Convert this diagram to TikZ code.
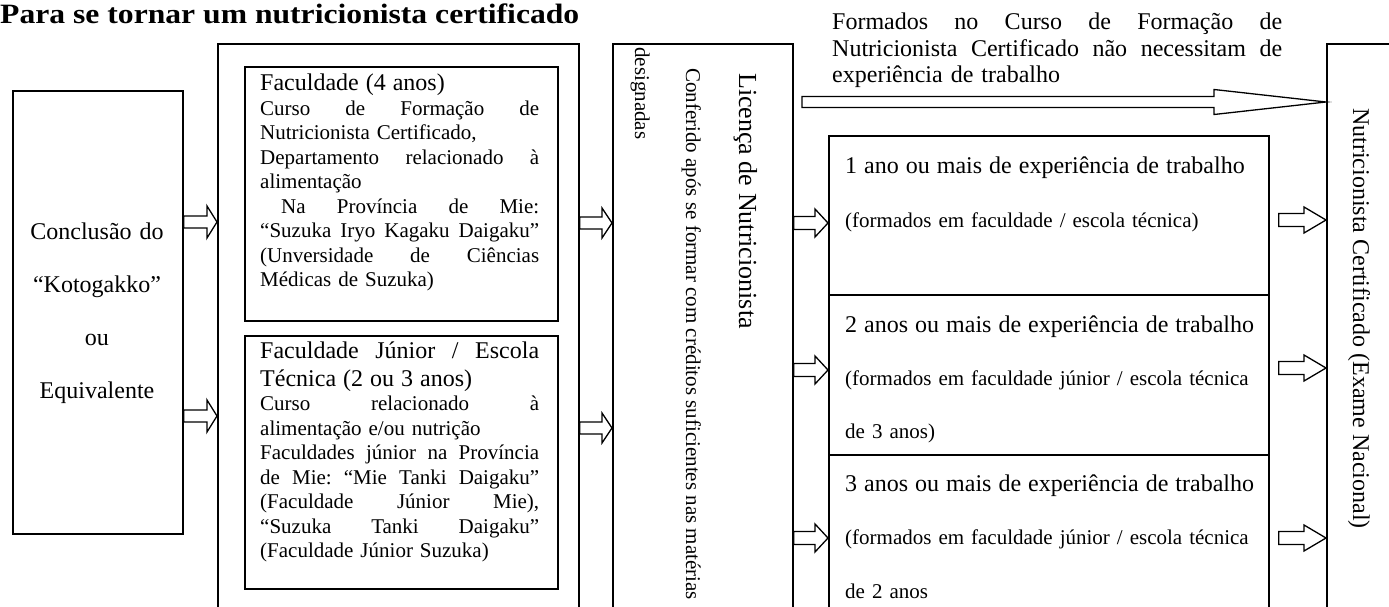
\documentclass[tikz,border=0pt]{standalone}
\usepackage{fontspec}
\usepackage{graphicx}
\setmainfont{Liberation Serif}
\usetikzlibrary{calc}
\begin{document}
\begin{tikzpicture}[x=1pt,y=-1pt,
  box/.style={draw, line width=1.8pt, inner sep=0pt, anchor=north west},
  ibox/.style={box, line width=2.3pt},
  body/.style={inner sep=0pt, anchor=base west, align=left, font=\fontsize{21}{24.5}\selectfont},
  big/.style={font=\fontsize{24}{26.5}\selectfont},
  vtext/.style={inner sep=0pt, rotate=-90, anchor=base west},
  arr/.style={line width=1.3pt},
  barrow/.style n args={3}{to path={let \p1=(\tikztostart), \p2=(\tikztotarget) in
    (\x1,\y1+#1pt) -- (\x2-#3pt,\y1+#1pt) -- (\x2-#3pt,\y1+#2pt) -- (\x2,\y1)
    -- (\x2-#3pt,\y1-#2pt) -- (\x2-#3pt,\y1-#1pt) -- (\x1,\y1-#1pt) -- cycle}}]
\useasboundingbox (0,0) rectangle (1389,607);
\clip (0,0) rectangle (1389,607);

% title
\node[anchor=base west, inner sep=0pt, font=\fontsize{28}{30}\selectfont\bfseries] (title) at (0,24)
  {\scalebox{1.13}[1]{Para se tornar um nutricionista certificado}};

% left box
\node[box, minimum width=170pt, minimum height=443pt] (kot) at (12,90) {};
\node[inner sep=0pt, anchor=base, text width=170pt, align=center, font=\fontsize{24}{53}\selectfont] (kott) at (97,239)
  {Conclusão do\\“Kotogakko”\\ou\\Equivalente};

% faculties
\node[box, minimum width=361pt, minimum height=600pt] (fac) at (217,43) {};
\node[ibox, minimum width=313pt, minimum height=254pt] (f4) at (244,66) {};
\node[ibox, minimum width=313pt, minimum height=253pt] (fj) at (244,335) {};
\node[body, text width=279pt] (f4t) at (260,91) {{\fontsize{24}{25}\selectfont Faculdade (4 anos)\par}
Curso\hfill de\hfill Formação\hfill de\\
Nutricionista Certificado,\\
Departamento\hfill relacionado\hfill à\\
alimentação\\
\hspace*{21pt}Na\hfill Província\hfill de\hfill Mie:\\
“Suzuka\hfill Iryo\hfill Kagaku\hfill Daigaku”\\
(Unversidade\hfill de\hfill Ciências\\
Médicas de Suzuka)};
\node[body, text width=279pt] (fjt) at (260,358) {{\fontsize{24}{28}\selectfont Faculdade\hfill Júnior\hfill /\hfill Escola\\
Técnica (2 ou 3 anos)\par}
Curso\hfill relacionado\hfill à\\
alimentação e/ou nutrição\\
Faculdades\hfill júnior\hfill na\hfill Província\\
de\hfill Mie:\hfill “Mie\hfill Tanki\hfill Daigaku”\\
(Faculdade\hfill Júnior\hfill Mie),\\
“Suzuka\hfill Tanki\hfill Daigaku”\\
(Faculdade Júnior Suzuka)};

% licence box
\node[box, minimum width=180pt, minimum height=600pt] (lic) at (612,43) {};
\node[vtext, font=\fontsize{26}{28}\selectfont] (lic1) at (739,73) {Licença de Nutricionista};
\node[vtext, font=\fontsize{21}{24}\selectfont] (lic2) at (686,68) {Conferido após se formar com créditos suficientes nas matérias};
\node[vtext, font=\fontsize{21}{24}\selectfont] (lic3) at (635,47) {designadas};

% top note
\node[body, big, text width=450pt] (note) at (832,30) {Formados\hfill no\hfill Curso\hfill de\hfill Formação\hfill de\\
Nutricionista\hfill Certificado\hfill não\hfill necessitam\hfill de\\
experiência de trabalho};

% experience boxes
\node[box, minimum width=440pt, minimum height=159pt] (e1) at (828,135) {};
\node[box, minimum width=440pt, minimum height=160pt] (e2) at (828,294) {};
\node[box, minimum width=440pt, minimum height=180pt] (e3) at (828,454) {};
\node[body, text width=425pt, font=\fontsize{21}{54}\selectfont] (e1t) at (845,173)
  {{\fontsize{24}{54}\selectfont 1 ano ou mais de experiência de trabalho}\\
   (formados em faculdade / escola técnica)};
\node[body, text width=425pt, font=\fontsize{21}{53}\selectfont] (e2t) at (845,332)
  {{\fontsize{24}{53}\selectfont 2 anos ou mais de experiência de trabalho}\\
   (formados em faculdade júnior / escola técnica\\
   de 3 anos)};
\node[body, text width=425pt, font=\fontsize{21}{53.5}\selectfont] (e3t) at (845,491)
  {{\fontsize{24}{53.5}\selectfont 3 anos ou mais de experiência de trabalho}\\
   (formados em faculdade júnior / escola técnica\\
   de 2 anos};

% final box
\node[box, minimum width=90pt, minimum height=600pt] (nc) at (1326,43) {};
\node[vtext, font=\fontsize{24}{26}\selectfont] (nct) at (1353,108) {Nutricionista Certificado (Exame Nacional)};

% arrow levels
\coordinate (ya) at (0,222);
\coordinate (yb) at (0,416);
\coordinate (yc) at (0,223);
\coordinate (yd) at (0,428);
\coordinate (ye) at (0,370);
\coordinate (yf) at (0,538);
\coordinate (yg) at (0,220);
\coordinate (yh) at (0,368);
\coordinate (yt) at (0,102);
\coordinate (ts) at (802,102);

\draw[arr] (kot.east |- ya) to[barrow={6}{16}{10}] (fac.west |- ya);
\draw[arr] (kot.east |- yb) to[barrow={6}{16}{10}] (fac.west |- yb);
\draw[arr] (fac.east |- yc) to[barrow={6}{15}{10}] (lic.west |- yc);
\draw[arr] (fac.east |- yd) to[barrow={6}{15}{10}] (lic.west |- yd);
\draw[arr] (lic.east |- yc) to[barrow={6.5}{14}{13}] (e1.west |- yc);
\draw[arr] (lic.east |- ye) to[barrow={6.5}{14}{13}] (e2.west |- ye);
\draw[arr] (lic.east |- yf) to[barrow={6.5}{14}{13}] (e3.west |- yf);
\draw[arr] ($(e1.east |- yg)+(9,0)$) to[barrow={6.5}{13}{22}] (nc.west |- yg);
\draw[arr] ($(e2.east |- yh)+(9,0)$) to[barrow={6.5}{13}{22}] (nc.west |- yh);
\draw[arr] ($(e3.east |- yf)+(9,0)$) to[barrow={6.5}{13}{22}] (nc.west |- yf);
\draw[arr] (ts) to[barrow={5.5}{12.5}{112}] (nc.west |- yt);
\end{tikzpicture}
\end{document}
